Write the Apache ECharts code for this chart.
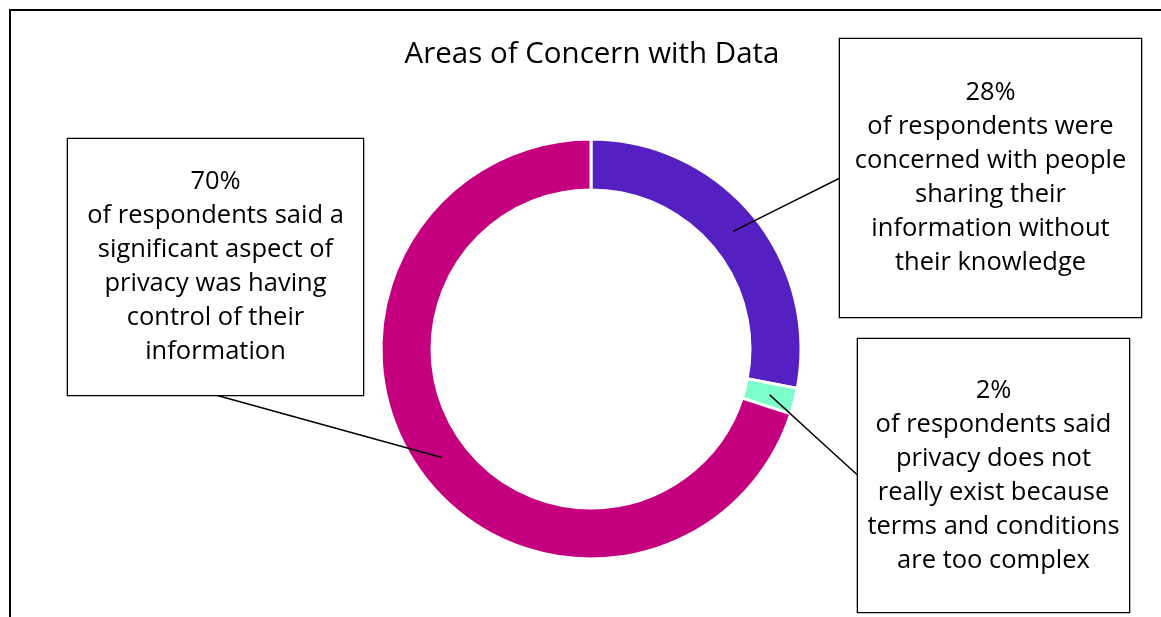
<!DOCTYPE html>
<html>
<head>
<meta charset="utf-8">
<script src="https://cdn.jsdelivr.net/npm/echarts@6/dist/echarts.min.js"></script>
<style>
  html, body { margin: 0; padding: 0; background: #fff; }
  #main { width: 1161px; height: 617px; }
</style>
</head>
<body>
<div id="main"></div>
<script>
// data, clockwise from 12 o'clock
const sliceNames = ['Sharing without knowledge', 'Terms too complex', 'Control of information'];
const sliceValues = [28, 2, 70];
const sliceNotes = [
  'of respondents were\nconcerned with people\nsharing their\ninformation without\ntheir knowledge',
  'of respondents said\nprivacy does not\nreally exist because\nterms and conditions\nare too complex',
  'of respondents said a\nsignificant aspect of\nprivacy was having\ncontrol of their\ninformation'
];

// look
const sliceColors = ['#5420c2', '#7dffcb', '#c5007f'];
const center = [591, 349];
const radius = [159, 210];
const lineH = 34;
// callout boxes (left, top, width, height, side the leader line hits)
const boxes = [
  { left: 840, top: 39, w: 301, h: 278, side: 'left' },
  { left: 858, top: 339, w: 271, h: 273, side: 'left' },
  { left: 68, top: 139, w: 295, h: 256, side: 'bottom' }
];

const total = sliceValues.reduce((a, b) => a + b, 0);
let acc = 0;
const midAngles = sliceValues.map(v => {
  const a = (90 - (acc + v / 2) / total * 360) * Math.PI / 180;
  acc += v;
  return a;
});
const rMid = (radius[0] + radius[1]) / 2;

const chart = echarts.init(document.getElementById('main'));

// ring itself
const ringData = sliceValues.map((v, i) => ({
  name: sliceNames[i],
  value: v,
  itemStyle: { color: sliceColors[i] }
}));

// same slices again, invisible, carrying the callouts so the leader lines sit above the ring
const calloutData = sliceValues.map((v, i) => {
  const b = boxes[i];
  const textH = (sliceNotes[i].split('\n').length + 1) * lineH;
  const padTop = Math.round((b.h - textH) / 2) + 1;
  return {
    name: sliceNames[i],
    value: v,
    label: {
      width: b.w,
      padding: [padTop, 0, b.h - textH - padTop, 0]
    }
  };
});

const pieBase = {
  type: 'pie',
  center: center,
  radius: radius,
  startAngle: 90,
  clockwise: true,
  avoidLabelOverlap: false,
  emphasis: { disabled: true }
};

chart.setOption({
  animation: false,
  title: {
    text: 'Areas of Concern with Data',
    left: 587,
    top: 35,
    textAlign: 'center',
    textStyle: { fontFamily: 'Open Sans', fontSize: 29.5, fontWeight: 'normal', color: '#000' }
  },
  graphic: [{
    type: 'rect',
    shape: { x: 10, y: 10, width: 1300, height: 800 },
    style: { fill: 'none', stroke: '#000', lineWidth: 2 },
    silent: true
  }],
  series: [
    Object.assign({}, pieBase, {
      z: 2,
      itemStyle: { borderColor: '#fff', borderWidth: 3 },
      label: { show: false },
      labelLine: { show: false },
      data: ringData
    }),
    Object.assign({}, pieBase, {
      z: 3,
      silent: true,
      itemStyle: { color: 'rgba(0,0,0,0)', borderWidth: 0 },
      label: {
        show: true,
        position: 'outside',
        formatter: p => p.value + '%\n' + sliceNotes[p.dataIndex],
        fontFamily: 'Open Sans',
        fontSize: 25.5,
        lineHeight: lineH,
        color: '#000',
        align: 'center',
        overflow: 'none',
        backgroundColor: '#fff',
        borderColor: '#000',
        borderWidth: 1.3
      },
      labelLine: {
        show: true,
        lineStyle: { color: '#000', width: 1.5 }
      },
      labelLayout: function (params) {
        const i = params.dataIndex;
        const b = boxes[i];
        const a = midAngles[i];
        const start = [center[0] + rMid * Math.cos(a), center[1] - rMid * Math.sin(a)];
        const end = b.side === 'left'
          ? [b.left, b.top + b.h / 2]
          : [b.left + b.w / 2, b.top + b.h];
        return {
          x: b.left + b.w / 2,
          y: b.top + b.h / 2,
          align: 'center',
          verticalAlign: 'middle',
          labelLinePoints: [start, [(start[0] + end[0]) / 2, (start[1] + end[1]) / 2], end]
        };
      },
      data: calloutData
    })
  ]
});
</script>
</body>
</html>
